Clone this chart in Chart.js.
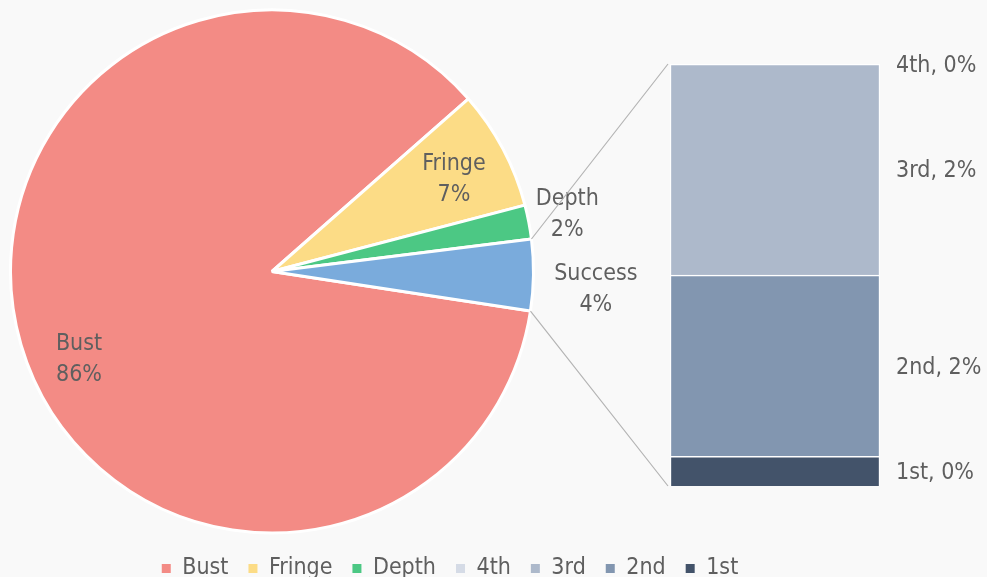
<!DOCTYPE html>
<html>
<head>
<meta charset="utf-8">
<script src="https://cdn.jsdelivr.net/npm/chart.js@4"></script>
<style>
  html, body { margin: 0; padding: 0; background: #f9f9f9; }
  #wrap { position: relative; width: 987px; height: 577px; }
  #pieBox { position: absolute; left: 0; top: 0; width: 900px; height: 577px; }
  #barBox { position: absolute; left: 670px; top: 40px; width: 317px; height: 470px; }
</style>
</head>
<body>
<div id="wrap">
  <div id="pieBox"><canvas id="pieChart"></canvas></div>
  <div id="barBox"><canvas id="barChart"></canvas></div>
</div>
<script>
const FONT = "'DejaVu Sans Condensed', 'DejaVu Sans', sans-serif";
const TEXT = "#5f5f5f";

// pie data
const pieLabels = ["Bust", "Fringe", "Depth", "Success"];
const pieValues = [86.1, 7.4, 2.1, 4.4];
const pieColors = ["#f38b85", "#fcdc86", "#4cc884", "#7aabdc"];

// breakdown of Success (bottom to top)
const barLabels = ["1st", "2nd", "3rd", "4th"];
const barValues = [0.31, 1.89, 2.2, 0.0];
const barColors = ["#43536a", "#8296b0", "#adb9cb", "#d5dbe6"];

const barCtx = document.getElementById("barChart").getContext("2d");

const barLabelPlugin = {
  id: "barLabels",
  afterDatasetsDraw(chart) {
    const ctx = chart.ctx;
    ctx.save();
    ctx.font = "23px " + FONT;
    ctx.fillStyle = TEXT;
    ctx.textAlign = "left";
    ctx.textBaseline = "middle";
    chart.data.datasets.forEach((ds, i) => {
      const el = chart.getDatasetMeta(i).data[0];
      const y = (el.y + el.base) / 2;
      const txt = ds.label + ", " + Math.round(ds.data[0]) + "%";
      ctx.fillText(txt, el.x + el.width / 2 + 16, y + 2);
    });
    ctx.restore();
  },
};

const barChart = new Chart(barCtx, {
  type: "bar",
  data: {
    labels: ["Success"],
    datasets: barLabels.map((l, i) => ({
      label: l,
      data: [barValues[i]],
      backgroundColor: barColors[i],
      borderColor: "#ffffff",
      borderWidth: 1.5,
      barPercentage: 1,
      categoryPercentage: 1,
    })),
  },
  options: {
    responsive: true,
    maintainAspectRatio: false,
    animation: false,
    layout: { padding: { left: 0, right: 107, top: 24, bottom: 24 } },
    plugins: { legend: { display: false }, tooltip: { enabled: false } },
    scales: {
      x: { stacked: true, display: false },
      y: {
        stacked: true,
        display: false,
        min: 0,
        max: barValues.reduce((a, b) => a + b, 0),
      },
    },
  },
  plugins: [barLabelPlugin],
});

const pieLabelPlugin = {
  id: "pieLabels",
  beforeLayout(chart) {
    // let the legend use the whole canvas width (one row)
    const lg = chart.legend;
    if (lg && !lg._wide) {
      const fit = lg.fit;
      lg.fit = function () {
        this.maxWidth = chart.width;
        fit.call(this);
      };
      lg._wide = true;
    }
  },
  afterLayout(chart) {
    // and centre it under both charts
    chart.legend.left = 0;
    chart.legend.right = chart.width;
    chart.legend.width = chart.width;
  },
  afterDatasetsDraw(chart) {
    const ctx = chart.ctx;
    const meta = chart.getDatasetMeta(0);
    const radial = [0.81, 0.78, 1.15, 1.24];
    const shift = [-0.14, 0.02, 0, 0.04];
    ctx.save();
    ctx.font = "23px " + FONT;
    ctx.fillStyle = TEXT;
    ctx.textAlign = "center";
    ctx.textBaseline = "middle";
    meta.data.forEach((arc, i) => {
      const mid = (arc.startAngle + arc.endAngle) / 2 + shift[i];
      const r = arc.outerRadius * radial[i];
      const x = arc.x + Math.cos(mid) * r;
      const y = arc.y + Math.sin(mid) * r;
      ctx.fillText(pieLabels[i], x, y - 15);
      ctx.fillText(Math.round(pieValues[i]) + "%", x, y + 16);
    });

    // connector lines from Success slice to the breakdown bar
    const s = meta.data[3];
    const top = barChart.getDatasetMeta(3).data[0];
    const bot = barChart.getDatasetMeta(0).data[0];
    const box = document.getElementById("barBox");
    const ox = box.offsetLeft, oy = box.offsetTop;
    const bx = ox + top.x - top.width / 2 - 2;
    ctx.strokeStyle = "#b4b4b4";
    ctx.lineWidth = 1.2;
    ctx.beginPath();
    ctx.moveTo(s.x + Math.cos(s.startAngle) * s.outerRadius, s.y + Math.sin(s.startAngle) * s.outerRadius);
    ctx.lineTo(bx, oy + top.y);
    ctx.moveTo(s.x + Math.cos(s.endAngle) * s.outerRadius, s.y + Math.sin(s.endAngle) * s.outerRadius);
    ctx.lineTo(bx, oy + bot.base);
    ctx.stroke();
    ctx.restore();
  },
};

const pieCtx = document.getElementById("pieChart").getContext("2d");
const pieChart = new Chart(pieCtx, {
  type: "pie",
  data: {
    labels: pieLabels,
    datasets: [
      {
        data: pieValues,
        backgroundColor: pieColors,
        borderColor: "#ffffff",
        borderWidth: 3,
      },
    ],
  },
  options: {
    responsive: true,
    maintainAspectRatio: false,
    animation: false,
    rotation: 98.7,
    layout: { padding: { left: 9, right: 365, top: 6, bottom: -13 } },
    plugins: {
      tooltip: { enabled: false },
      legend: {
        position: "bottom",
        labels: {
          font: { family: FONT, size: 23 },
          color: TEXT,
          boxWidth: 9,
          boxHeight: 9,
          padding: 20,
          generateLabels() {
            const items = pieLabels.slice(0, 3).map((l, i) => ({
              text: l,
              fillStyle: pieColors[i],
              strokeStyle: pieColors[i],
              fontColor: TEXT,
              lineWidth: 0,
            }));
            for (let i = barLabels.length - 1; i >= 0; i--) {
              items.push({
                text: barLabels[i],
                fillStyle: barColors[i],
                strokeStyle: barColors[i],
                fontColor: TEXT,
                lineWidth: 0,
              });
            }
            return items;
          },
        },
      },
    },
  },
  plugins: [pieLabelPlugin],
});
</script>
</body>
</html>
